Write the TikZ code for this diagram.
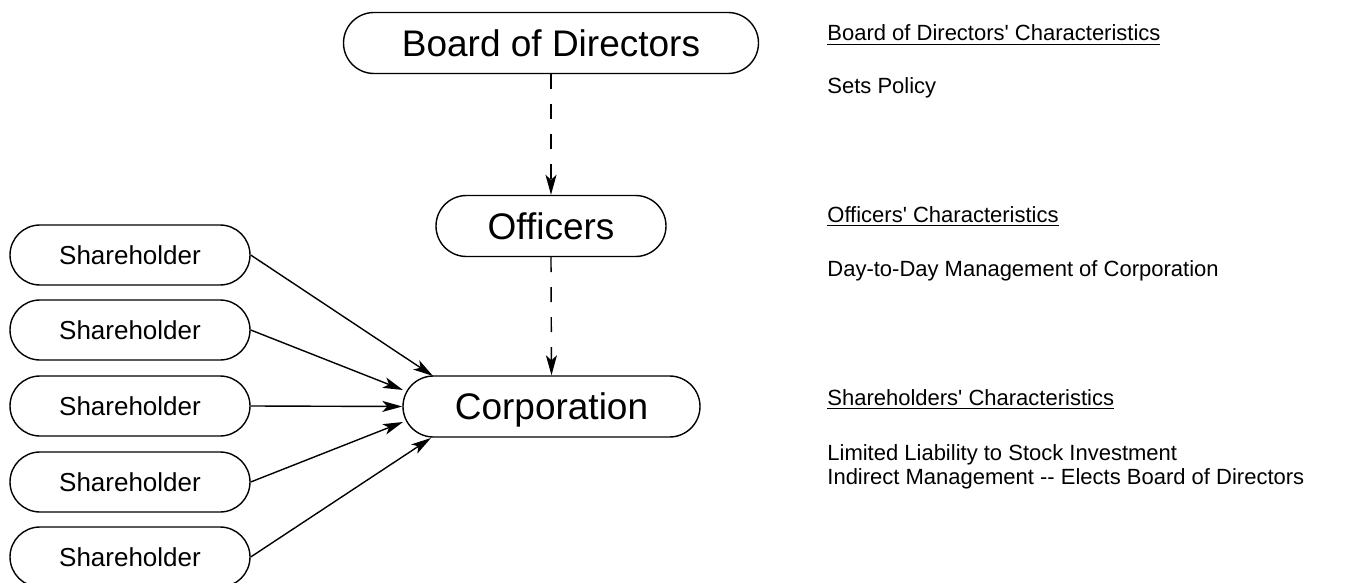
\documentclass[tikz,border=0pt]{standalone}
\usepackage{fontspec}
\setmainfont{Liberation Sans}
\usetikzlibrary{shapes.misc,arrows.meta}
\tikzset{
  pill/.style={rounded rectangle, draw, line width=0.7pt, inner sep=0pt, text depth=0pt},
  bigpill/.style={pill, font=\fontsize{18.5}{22}\selectfont, text height=13.2pt, minimum height=30.5pt},
  sharepill/.style={pill, font=\fontsize{13}{16}\selectfont, text height=9.3pt, minimum width=120pt, minimum height=30pt},
  note/.style={anchor=base west, inner sep=0pt, font=\fontsize{11}{13}\selectfont},
  solidarrow/.style={-{Stealth[length=10pt,width=5.5pt,inset=2.5pt]}, line width=0.7pt},
  dasharrow/.style={-{Stealth[length=10pt,width=5.5pt,inset=2.5pt]}, line width=0.7pt, dash pattern=on 7.5pt off 7.5pt}
}
\begin{document}
\begin{tikzpicture}[x=0.5pt,y=-0.5pt]
\useasboundingbox (0,0) rectangle (1350,583);
% main boxes
\node[bigpill, minimum width=207.5pt] (board) at (551,43) {Board of Directors};
\node[bigpill, minimum width=115pt] (off) at (551,226) {Officers};
\node[bigpill, minimum width=148.5pt] (corp) at (551.5,406.5) {Corporation};
% shareholders
\node[sharepill] (s1) at (130,255) {Shareholder};
\node[sharepill] (s2) at (130,330) {Shareholder};
\node[sharepill] (s3) at (130,406) {Shareholder};
\node[sharepill] (s4) at (130,482) {Shareholder};
\node[sharepill] (s5) at (130,557) {Shareholder};
% arrow targets
\coordinate (c1) at (433,376);
\coordinate (c2) at (403,390);
\coordinate (c4) at (403,422);
\coordinate (c5) at (431,438);
\draw[solidarrow] (s1.east) -- (c1);
\draw[solidarrow] (s2.east) -- (c2);
\draw[solidarrow] (s3.east) -- (corp.west);
\draw[solidarrow] (s4.east) -- (c4);
\draw[solidarrow] (s5.east) -- (c5);
% dashed
\draw[dasharrow] (board.south) -- (off.north);
\draw[dasharrow] (off.south) -- (corp.north);
% notes
\node[note] (n1) at (827,41) {\underline{Board of Directors\textquotesingle{} Characteristics}};
\node[note] (n2) at (827,94) {Sets Policy};
\node[note] (n3) at (827,222) {\underline{Officers\textquotesingle{} Characteristics}};
\node[note] (n4) at (827,276) {Day-to-Day Management of Corporation};
\node[note] (n5) at (827,405) {\underline{Shareholders\textquotesingle{} Characteristics}};
\node[note] (n6) at (827,460) {Limited Liability to Stock Investment};
\node[note] (n7) at (827,484) {Indirect Management -{}- Elects Board of Directors};
\end{tikzpicture}
\end{document}
